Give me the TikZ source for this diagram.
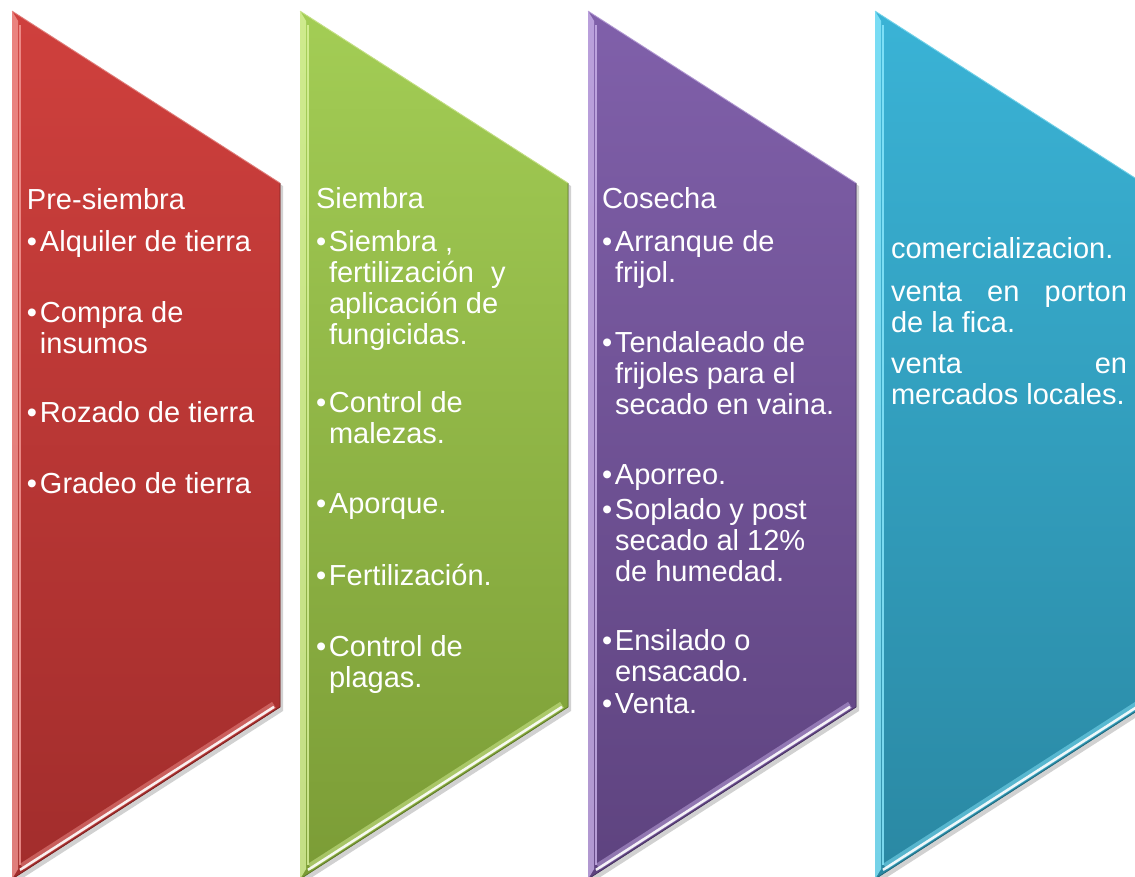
\documentclass[tikz,border=0pt]{standalone}
\usepackage{fontspec}
\setmainfont{Liberation Sans}
\definecolor{redT}{HTML}{CF403D}
\definecolor{redB}{HTML}{A22D2C}
\definecolor{redL}{HTML}{F49A96}
\definecolor{grnT}{HTML}{A3CD55}
\definecolor{grnB}{HTML}{7B9C36}
\definecolor{grnL}{HTML}{DDF5A0}
\definecolor{purT}{HTML}{8060AA}
\definecolor{purB}{HTML}{5E437F}
\definecolor{purL}{HTML}{CDB5EC}
\definecolor{bluT}{HTML}{3AB3D6}
\definecolor{bluB}{HTML}{2A88A3}
\definecolor{bluL}{HTML}{8EEBFF}
\newcommand\bul{\makebox[13pt][l]{•}}
\newcommand\ind{\hspace*{13pt}}
\newcommand\twol[2]{\vtop{\hbox{#1}\hbox{#2}}}
\newcommand\threel[3]{\vtop{\hbox{#1}\hbox{#2}\hbox{#3}}}
\newcommand\fourl[4]{\vtop{\hbox{#1}\hbox{#2}\hbox{#3}\hbox{#4}}}
% #1 left x, #2 top colour, #3 bottom colour, #4 light colour
\newcommand\chevronshape[4]{%
  \fill[black,opacity=0.18] ({#1+3},14) -- ({#1+271},186) -- ({#1+271},711) -- ({#1+3},883) -- cycle;
  \fill[top color=#2,bottom color=#3] (#1,11) -- ({#1+268},183) -- ({#1+268},707) -- (#1,879) -- cycle;
  \fill[#4,opacity=0.75] (#1,11) -- ({#1+6},{11+6*0.642+6}) -- ({#1+6},{879-6*0.642-6}) -- (#1,879) -- cycle;
  \draw[#4,line width=1.2,opacity=0.8] ({#1+8},{11+8*0.642+9}) -- ({#1+8},{879-8*0.642-9});
  \draw[#4,line width=7,opacity=0.45] ({#1+10},{879-10*0.642-6}) -- ({#1+262},{707+6*0.642-6});
  \draw[white,line width=2.5,opacity=0.9] ({#1+8},{879-8*0.642-4}) -- ({#1+262},{707+6*0.642-4});
  \draw[#3!80!black,line width=0.8] (#1,879) -- ({#1+268},707) -- ({#1+268},183);
  \draw[#4,line width=1,opacity=0.7] (#1,11) -- ({#1+268},183);
}
\begin{document}
\begin{tikzpicture}[x=1pt,y=-1pt,
  txt/.style={anchor=base west,inner sep=0pt,outer sep=0pt,text=white,
    font=\fontsize{29}{31}\selectfont}]
\useasboundingbox (0,0) rectangle (1135,876);
\clip (0,0) rectangle (1135,876);
\chevronshape{12}{redT}{redB}{redL}
\chevronshape{300}{grnT}{grnB}{grnL}
\chevronshape{588}{purT}{purB}{purL}
\chevronshape{875}{bluT}{bluB}{bluL}
% red column
\node[txt] (rh) at (27,209) {Pre-siembra};
\node[txt] (r1) at (27,251) {\bul Alquiler de tierra};
\node[txt] (r2) at (27,322) {\twol{\bul Compra de}{\ind insumos}};
\node[txt] (r3) at (27,422) {\bul Rozado de tierra};
\node[txt] (r4) at (27,493) {\bul Gradeo de tierra};
% green column
\node[txt] (gh) at (316,208) {Siembra};
\node[txt] (g1) at (316,251) {\fourl{\bul Siembra ,}{\ind fertilización\hspace{9pt} y}{\ind aplicación de}{\ind fungicidas.}};
\node[txt] (g2) at (316,412) {\twol{\bul Control de}{\ind malezas.}};
\node[txt] (g3) at (316,513) {\bul Aporque.};
\node[txt] (g4) at (316,585) {\bul Fertilización.};
\node[txt] (g5) at (316,656) {\twol{\bul Control de}{\ind plagas.}};
% purple column
\node[txt] (ph) at (602,208) {Cosecha};
\node[txt] (p1) at (602,251) {\twol{\bul Arranque de}{\ind frijol.}};
\node[txt] (p2) at (602,352) {\threel{\bul Tendaleado de}{\ind frijoles para el}{\ind secado en vaina.}};
\node[txt] (p3) at (602,484) {\bul Aporreo.};
\node[txt] (p4) at (602,519) {\threel{\bul Soplado y post}{\ind secado al 12\%}{\ind de humedad.}};
\node[txt] (p5) at (602,650) {\twol{\bul Ensilado o}{\ind ensacado.}};
\node[txt] (p6) at (602,713) {\bul Venta.};
% blue column
\node[txt] (bh) at (891,258) {comercializacion.};
\node[txt] (b1) at (891,301) {\twol{\makebox[236pt][l]{venta\hfill en\hfill porton}}{de la fica.}};
\node[txt] (b2) at (891,373) {\twol{\makebox[236pt][l]{venta\hfill en}}{mercados locales.}};
\end{tikzpicture}
\end{document}
